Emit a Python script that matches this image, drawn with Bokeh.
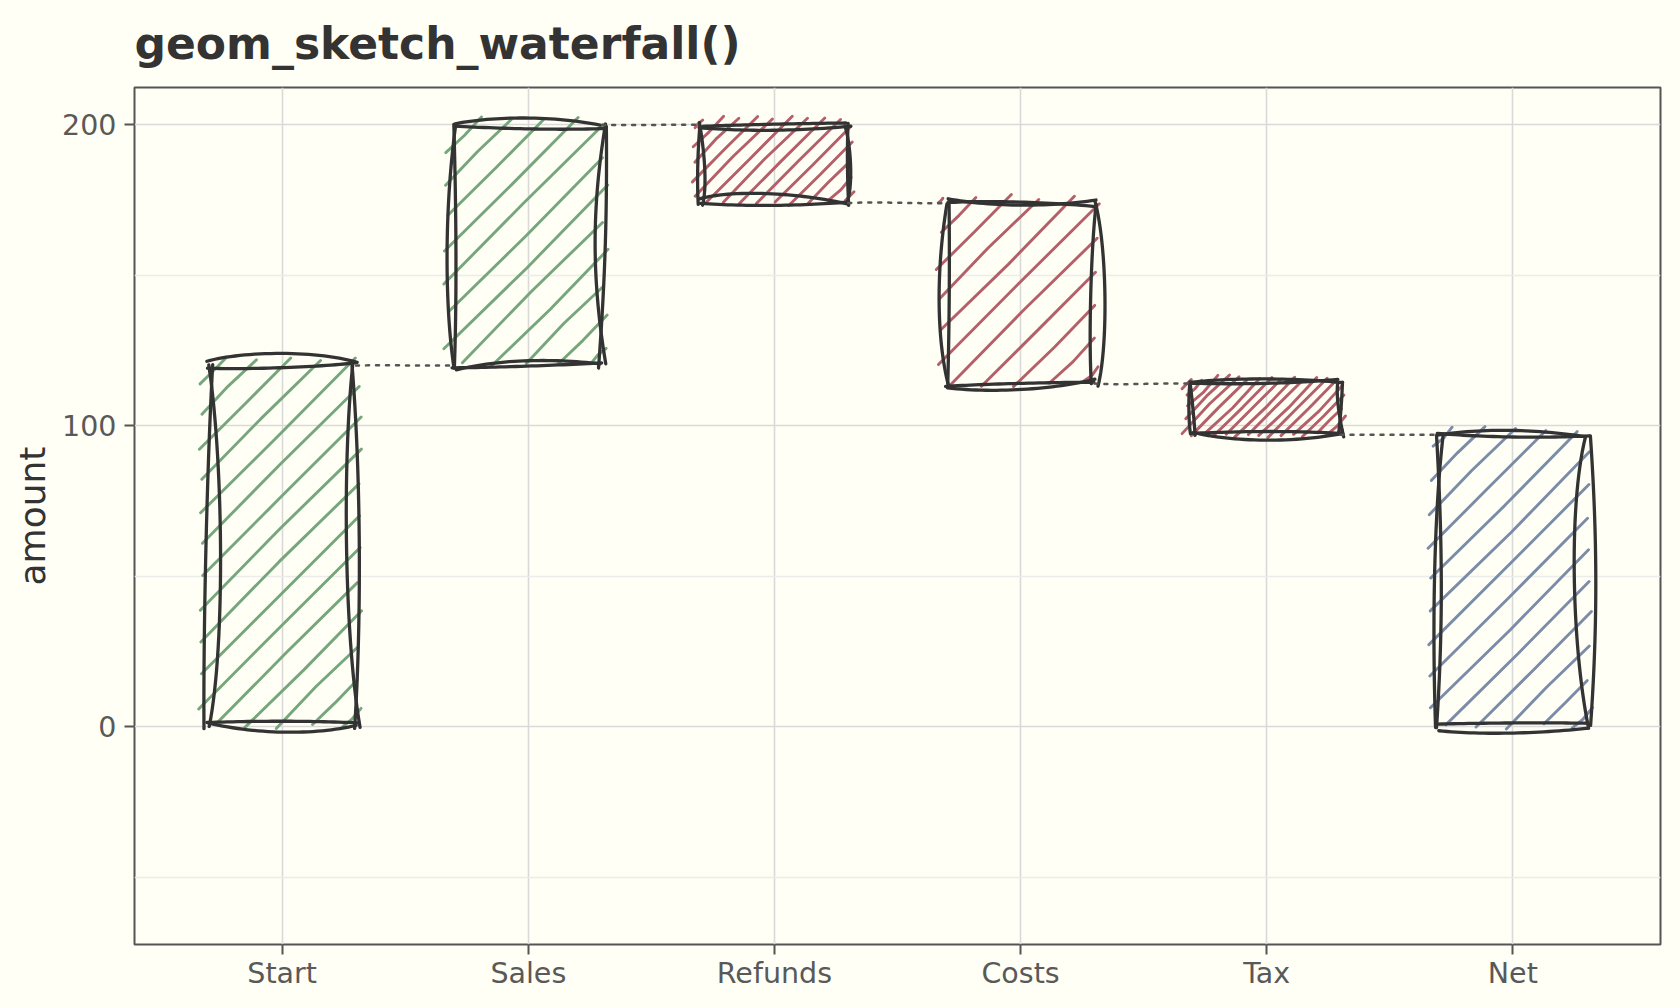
import math
import numpy as np
from bokeh.plotting import figure
from bokeh.models import Range1d, FixedTicker, ColumnDataSource
from bokeh.embed import file_html
from bokeh.resources import INLINE

# ---------------- data ----------------
categories = ["Start", "Sales", "Refunds", "Costs", "Tax", "Net"]
amounts = [120, 80, -26, -60, -17, 97]
measure = ["increase", "increase", "decrease", "decrease", "decrease", "total"]
y_ticks = [0, 100, 200]
y_minor_ticks = [-50, 50, 150]
title_text = "geom_sketch_waterfall()"
y_label = "amount"

# ---------------- style ----------------
FILL = {"increase": "#76a67b", "decrease": "#b4606a", "total": "#7b8ca8"}
BG = "#fffff5"
INK = "#333333"
BAR_WIDTH = 0.6

W, H = 1672, 1000
ML, MR, MT, MB = 134, 12, 87, 56
FW, FH = W - ML - MR, H - MT - MB
XR = (0.4, 6.6)
YR = (-72.4, 212.4)

# ---------------- waterfall geometry from the data ----------------
xs_cat = list(range(1, len(categories) + 1))
bottoms, tops, levels = [], [], []
run = 0
for a, m in zip(amounts, measure):
    if m == "total":
        b, t = 0, a
        run = a
    else:
        b, t = run, run + a
        run = run + a
    bottoms.append(min(b, t))
    tops.append(max(b, t))
    levels.append(run)


def to_px(x, y):
    return ((x - XR[0]) * FW / (XR[1] - XR[0]), (y - YR[0]) * FH / (YR[1] - YR[0]))


def to_data(px, py):
    return (XR[0] + np.asarray(px) * (XR[1] - XR[0]) / FW,
            YR[0] + np.asarray(py) * (YR[1] - YR[0]) / FH)


def rnd(k):
    v = math.sin(k * 12.9898 + 78.233) * 43758.5453
    return v - math.floor(v)


def sr(k):
    return 2.0 * rnd(k) - 1.0


def bezier(a, c1, c2, b, n=32):
    t = np.linspace(0, 1, n)[:, None]
    pts = ((1 - t) ** 3) * a + 3 * ((1 - t) ** 2) * t * c1 + 3 * (1 - t) * (t ** 2) * c2 + (t ** 3) * b
    return pts[:, 0], pts[:, 1]


def rough_line(p, q, seed, strokes=2, bow_scale=0.075):
    p = np.array(p, float)
    q = np.array(q, float)
    d = q - p
    L = math.hypot(*d)
    u = d / L
    nrm = np.array([-u[1], u[0]])
    amp = min(4.5, 0.07 * L) + 1.0
    out = []
    sign = 1.0 if rnd(seed * 3.1) > 0.5 else -1.0
    for s in range(strokes):
        k = seed * 17.0 + s * 7.3
        a = p + u * (sr(k) * amp * 0.5) + nrm * (sr(k + 1) * amp * 0.8)
        b = q + u * (sr(k + 2) * amp * 0.5) + nrm * (sr(k + 3) * amp * 0.8)
        mag = (0.25 + 0.75 * rnd(k + 4)) if s == 0 else (0.05 + 0.3 * rnd(k + 4))
        bow = sign * (1 if s == 0 else -1) * mag * bow_scale * L
        c1 = a + (b - a) * (0.22 + 0.15 * rnd(k + 5)) + nrm * bow
        c2 = a + (b - a) * (0.62 + 0.15 * rnd(k + 6)) + nrm * bow * (0.7 + 0.6 * rnd(k + 7))
        out.append(bezier(a, c1, c2, b))
    return out


outline_xs, outline_ys = [], []
hatch_xs, hatch_ys, hatch_col = [], [], []

for i, (xc, b, t, m) in enumerate(zip(xs_cat, bottoms, tops, measure)):
    x0, yb = to_px(xc - BAR_WIDTH / 2, b)
    x1, yt = to_px(xc + BAR_WIDTH / 2, t)
    w, h = x1 - x0, yt - yb
    # hatching at 45 degrees (screen space), clipped to a loosely drawn box
    gap = 0.155 * min(w, h)
    step = gap * math.sqrt(2)
    exl, ext, exr, exb = 8.0, 6.0, 3.0, 0.0
    c = (yb - exb) - (x1 + exr) + step * 0.5
    j = 0
    while c < (yt + ext) - (x0 - exl):
        xa = max(x0 - exl, (yb - exb) - c)
        xb = min(x1 + exr, (yt + ext) - c)
        if xb - xa > 3:
            k = 500 + i * 100 + j
            xa2 = xa + sr(k) * 3.0
            xb2 = xb + sr(k + 1) * 3.0
            mid = 0.5 * (xa2 + xb2)
            off = sr(k + 2) * 1.8
            hx = np.array([xa2, mid - off / math.sqrt(2), xb2])
            hy = np.array([xa2 + c, mid + c + off / math.sqrt(2), xb2 + c])
            dx, dy = to_data(hx, hy)
            hatch_xs.append(list(dx))
            hatch_ys.append(list(dy))
            hatch_col.append(FILL[m])
        c += step
        j += 1
    # sketchy outline: four edges, two strokes each
    corners = [(x0, yt), (x1, yt), (x1, yb), (x0, yb)]
    for e in range(4):
        p = corners[e]
        q = corners[(e + 1) % 4]
        for (lx, ly) in rough_line(p, q, seed=i * 4 + e + 1):
            dx, dy = to_data(lx, ly)
            outline_xs.append(list(dx))
            outline_ys.append(list(dy))

# dotted connectors between consecutive bars at the running level
conn_xs, conn_ys = [], []
for i in range(len(categories) - 1):
    pa = np.array(to_px(xs_cat[i] + BAR_WIDTH / 2, levels[i]))
    pb = np.array(to_px(xs_cat[i + 1] - BAR_WIDTH / 2, levels[i]))
    bow = sr(900 + i) * 2.5
    c1 = pa + (pb - pa) * 0.33 + np.array([0, bow])
    c2 = pa + (pb - pa) * 0.66 + np.array([0, -bow * 0.5])
    lx, ly = bezier(pa, c1, c2, pb, n=24)
    dx, dy = to_data(lx, ly)
    conn_xs.append(list(dx))
    conn_ys.append(list(dy))

# ---------------- figure ----------------
p = figure(width=W, height=H, x_range=Range1d(*XR), y_range=Range1d(*YR),
           output_backend="svg", toolbar_location=None,
           min_border_left=ML, min_border_right=MR, min_border_top=MT, min_border_bottom=MB)
p.background_fill_color = BG
p.border_fill_color = BG
p.outline_line_color = "#555555"
p.outline_line_width = 2

p.title.text = title_text
p.title.text_font = "DejaVu Sans"
p.title.text_font_style = "bold"
p.title.text_font_size = "44px"
p.title.text_color = INK
p.title.align = "left"
p.title.vertical_align = "top"
p.title.standoff = 33

p.xaxis.ticker = FixedTicker(ticks=xs_cat)
p.xaxis.major_label_overrides = {x: c for x, c in zip(xs_cat, categories)}
p.yaxis.ticker = FixedTicker(ticks=y_ticks, minor_ticks=y_minor_ticks)

for ax in (p.xaxis[0], p.yaxis[0]):
    ax.axis_line_color = None
    ax.major_tick_line_color = "#555555"
    ax.major_tick_line_width = 2
    ax.major_tick_out = 10
    ax.major_tick_in = 0
    ax.minor_tick_line_color = None
    ax.major_label_text_font = "DejaVu Sans"
    ax.major_label_text_font_size = "28.5px"
    ax.major_label_text_color = "#595959"
p.xaxis.major_label_standoff = 2
p.yaxis.major_label_standoff = 8
p.yaxis.axis_label = y_label
p.yaxis.axis_label_text_font = "DejaVu Sans"
p.yaxis.axis_label_text_font_style = "normal"
p.yaxis.axis_label_text_font_size = "36px"
p.yaxis.axis_label_text_color = INK
p.yaxis.axis_label_standoff = 6

p.xgrid.grid_line_color = "#d9d9d9"
p.xgrid.grid_line_width = 1.6
p.ygrid.grid_line_color = "#d9d9d9"
p.ygrid.grid_line_width = 1.6
p.ygrid.minor_grid_line_color = "#ececec"
p.ygrid.minor_grid_line_width = 1.4

hs = ColumnDataSource(dict(xs=hatch_xs, ys=hatch_ys, color=hatch_col))
p.multi_line("xs", "ys", source=hs, line_color="color", line_width=2.9, line_cap="round")

os_ = ColumnDataSource(dict(xs=outline_xs, ys=outline_ys))
p.multi_line("xs", "ys", source=os_, line_color=INK, line_width=3.3,
             line_cap="round", line_join="round")

cs = ColumnDataSource(dict(xs=conn_xs, ys=conn_ys))
p.multi_line("xs", "ys", source=cs, line_color="#555555", line_width=2.5,
             line_dash="3 7", line_cap="round")

html = file_html(p, INLINE, title=title_text)
html = html.replace("<head>", "<head><style>html,body{background:#fffff5;}</style>", 1)
open("out.html", "w").write(html)
